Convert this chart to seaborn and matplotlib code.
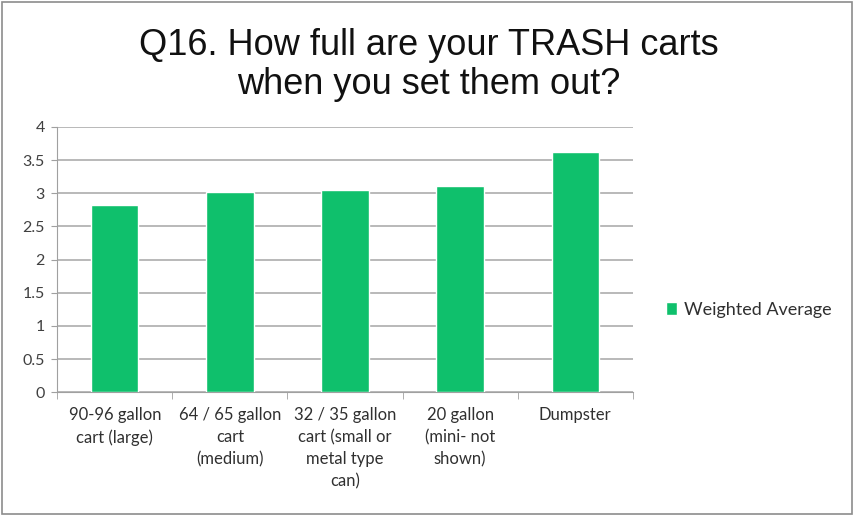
import pandas as pd
import seaborn as sns
import matplotlib.pyplot as plt
from matplotlib.patches import Rectangle

categories = ["90-96 gallon\ncart (large)", "64 / 65 gallon\ncart\n(medium)",
              "32 / 35 gallon\ncart (small or\nmetal type\ncan)", "20 gallon\n(mini- not\nshown)",
              "Dumpster"]
weighted_avg = [2.83, 3.02, 3.05, 3.11, 3.62]
yticks = [0, 0.5, 1, 1.5, 2, 2.5, 3, 3.5, 4]
ytick_labels = ["0", "0.5", "1", "1.5", "2", "2.5", "3", "3.5", "4"]

df = pd.DataFrame({"cat": categories, "value": weighted_avg, "series": "Weighted Average"})

sns.set_style("white")
plt.rcParams["font.family"] = ["Lato", "DejaVu Sans"]

fig = plt.figure(figsize=(8.55, 5.16), dpi=100)
ax = fig.add_axes([0.067, 0.240, 0.673, 0.514])
sns.barplot(data=df, x="cat", y="value", hue="series", palette=["#0FC06C"],
            width=0.41, saturation=1, ax=ax, zorder=3)

ax.set_ylim(0, 4)
ax.set_xlim(-0.5, 4.5)
ax.set_yticks(yticks)
ax.set_yticklabels(ytick_labels)
ax.yaxis.grid(True, color="#A6A6A6", linewidth=1.1, zorder=0)
ax.set_xlabel("")
ax.set_ylabel("")
for s in ["top", "right"]:
    ax.spines[s].set_visible(False)
ax.spines["left"].set_color("#A0A0A0")
ax.spines["bottom"].set_color("#A0A0A0")
ax.tick_params(axis="y", colors="#A0A0A0", labelcolor="#404040", labelsize=11.5,
               length=4, direction="out", left=True, pad=5)
ax.tick_params(axis="x", labelcolor="#303030", labelsize=12, length=0, pad=11)
ax.set_xticks(range(len(categories)))
ax.set_xticklabels(categories, va="top", ha="center", linespacing=1.45)
# tick marks between categories
ax.set_xticks([i + 0.5 for i in range(-1, len(categories))], minor=True)
ax.tick_params(axis="x", which="minor", length=5, color="#A0A0A0", direction="out", bottom=True)

ax.legend(loc="center left", bbox_to_anchor=(1.03, 0.31), frameon=False,
          fontsize=13, handlelength=0.6, handleheight=0.75, handletextpad=0.4,
          labelcolor="#303030")

fig.suptitle("Q16. How full are your TRASH carts\nwhen you set them out?",
             x=0.502, y=0.945, fontsize=26, family="Liberation Sans", linespacing=1.12,
             color="#111111")

fig.patches.append(Rectangle((0.002, 0.003), 0.995, 0.993, transform=fig.transFigure,
                             fill=False, edgecolor="#8C8C8C", linewidth=1.2))

fig.savefig("out.png", dpi=100)
